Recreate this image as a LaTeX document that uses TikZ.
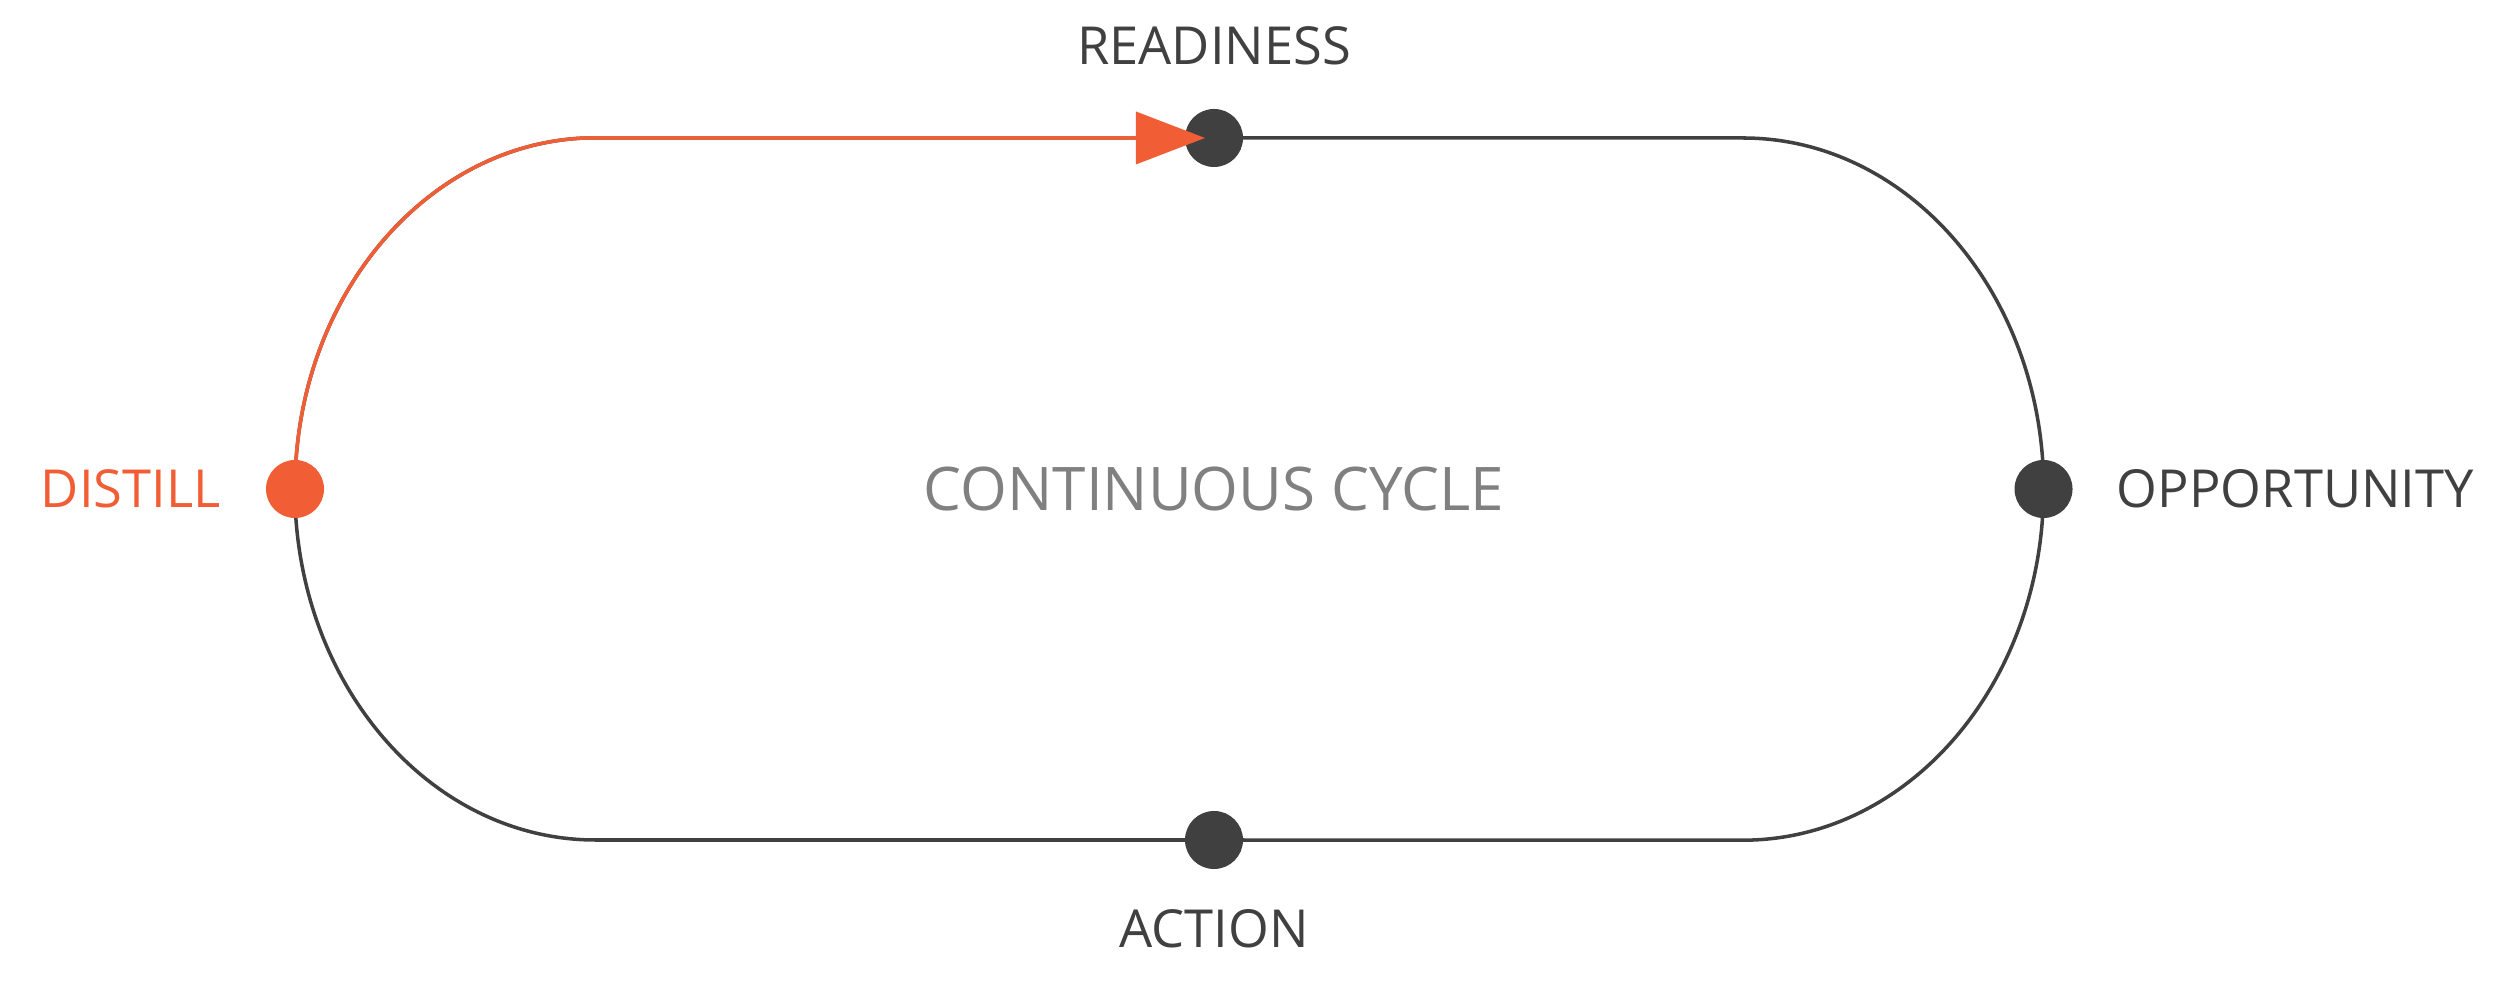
\documentclass[tikz,border=0pt]{standalone}
\usepackage{fontspec}
\setmainfont{Open Sans}
\usetikzlibrary{arrows.meta, positioning, backgrounds}
\definecolor{ink}{HTML}{404040}
\definecolor{flame}{HTML}{F15E35}
\definecolor{mist}{HTML}{808080}
\tikzset{
    track/.style={draw=ink, line width=1pt},
    hot/.style={draw=flame, line width=1pt},
    dot/.style={circle, fill=#1, inner sep=0pt, minimum size=0.58cm},
    dot/.default={ink},
    tag/.style={inner sep=0pt, text=ink, font=\fontsize{14.9pt}{18pt}\selectfont},
    cornerarc/.style={x radius=3.005cm, y radius=3.51cm}
}
\begin{document}
\begin{tikzpicture}[x=0.01cm, y=0.01cm]
    \useasboundingbox (0,0) rectangle (2500,991);
    \coordinate (tl) at (595.5,853);
    \coordinate (tr) at (1743,853);
    \coordinate (br) at (1743,151);
    \coordinate (bl) at (595.5,151);
    \coordinate (tip) at (1205,853);
    \node[dot=flame] (d) at (295,502){};
    \node[dot] (r) at (1214,853){};
    \node[dot] (o) at (2043.5,502){};
    \node[dot] (a) at (1214,151){};
    \begin{scope}[on background layer]
    \draw[track] (d.center) arc [cornerarc, start angle=180, end angle=90] -- (r.center) -- (tr)
        arc [cornerarc, start angle=90, end angle=0] -- (o.center) arc [cornerarc, start angle=0, end angle=-90]
        -- (a.center) -- (bl) arc [cornerarc, start angle=270, end angle=180] -- cycle;
    \end{scope}
    \draw[hot, -{Triangle[length=0.69cm, width=0.52cm]}] (d.center) arc [cornerarc, start angle=180, end angle=90] -- (tip);
    \node[tag, above=0.43cm of r] (rl) {READINESS};
    \node[tag, below=0.39cm of a] (al) {ACTION};
    \node[tag, text=flame, left=0.44cm of d] (dl) {DISTILL};
    \node[tag, right=0.43cm of o] (ol) {OPPORTUNITY};
    \node[tag, text=mist, font=\fontsize{17.1pt}{20pt}\selectfont] (cc) at (1214,502) {CONTINUOUS CYCLE};
\end{tikzpicture}
\end{document}
